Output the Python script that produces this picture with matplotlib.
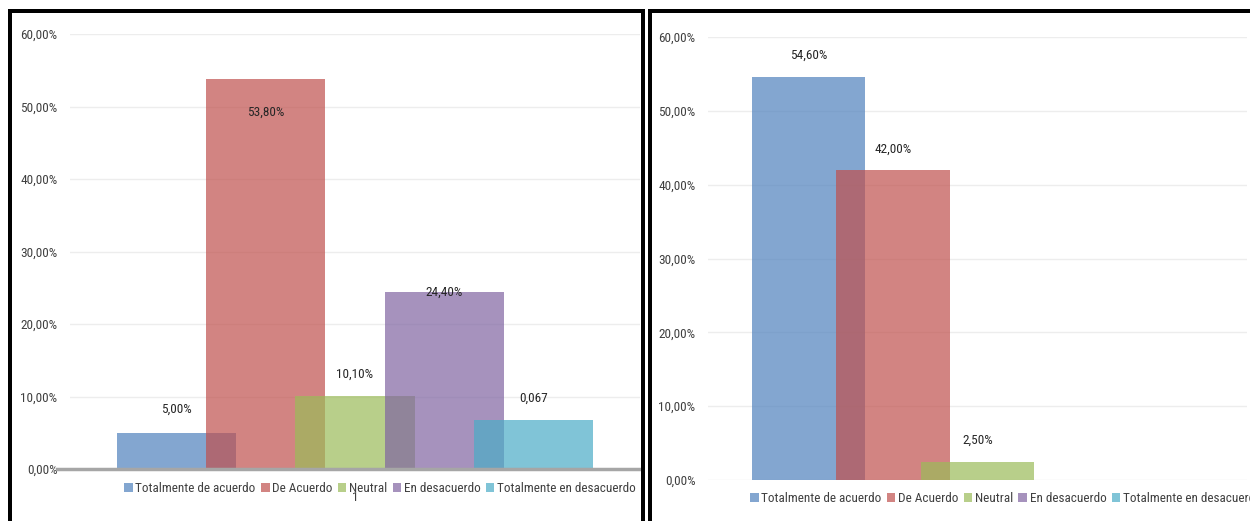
import matplotlib
matplotlib.use('Agg')
import matplotlib.pyplot as plt
from matplotlib.patches import Rectangle
from matplotlib.ticker import FuncFormatter, MultipleLocator
import numpy as np

# data
categories = ['Totalmente de acuerdo', 'De Acuerdo', 'Neutral',
              'En desacuerdo', 'Totalmente en desacuerdo']
left_values = [5.0, 53.8, 10.1, 24.4, 6.7]
left_labels = ['5,00%', '53,80%', '10,10%', '24,40%', '0,067']
right_values = [54.6, 42.0, 2.5, 0.0, 0.0]
right_labels = ['54,60%', '42,00%', '2,50%', '', '']
category_tick = ['1']

colors = ['#4F81BD', '#C0504D', '#9BBB59', '#8064A2', '#4BACC6']

plt.rcParams['font.family'] = ['Roboto Condensed', 'Archivo Narrow', 'DejaVu Sans']
plt.rcParams['font.size'] = 10

FS = 9.5
W, H = 1250, 521
fig = plt.figure(figsize=(W / 100, H / 100), dpi=100)


def px(x0, y0, x1, y1):
  # pixel box (top-left origin) -> figure fraction rect
  return [x0 / W, 1 - y1 / H, (x1 - x0) / W, (y1 - y0) / H]


def pct(v, _):
  return ('%.2f%%' % v).replace('.', ',')


def draw(ax, values, labels, offsets, width):
  x = np.arange(len(values))
  bars = ax.bar(x, values, width=width, color=colors, alpha=0.7,
                linewidth=0, zorder=3)
  for b, lab, off in zip(bars, labels, offsets):
    if not lab:
      continue
    ax.annotate(lab, (b.get_x() + b.get_width() / 2, b.get_height()),
                xytext=(0, off), textcoords='offset pixels',
                ha='center', va='center', color='#262626', fontsize=FS)
  ax.set_ylim(0, 60)
  ax.set_xlim(-1.19, 5.19)
  ax.yaxis.set_major_locator(MultipleLocator(10))
  ax.yaxis.set_major_formatter(FuncFormatter(pct))
  ax.grid(axis='y', color='#EDEDED', lw=1, zorder=0)
  ax.tick_params(axis='y', length=0, pad=9, labelcolor='#404040',
                 labelsize=FS)
  for s in ax.spines.values():
    s.set_visible(False)
  return bars


def legend(bars, anchor, loc):
  fig.legend(bars, categories, loc=loc, ncol=5, bbox_to_anchor=anchor,
             frameon=False, handlelength=0.65, handleheight=0.65,
             handletextpad=0.2, columnspacing=0.4, borderpad=0,
             borderaxespad=0, fontsize=FS, labelcolor='#404040')


# left chart
axL = fig.add_axes(px(70, 34, 640, 469))
bars = draw(axL, left_values, left_labels, [23, -33, 22, 0, 22], 1.333)
axL.axhline(0, xmin=-0.023, xmax=1, color='#A6A6A6', lw=2.5,
            clip_on=False, zorder=4)
axL.set_xticks([2])
axL.set_xticklabels(category_tick)
axL.tick_params(axis='x', length=0, pad=16, labelcolor='#404040',
                labelsize=FS)
legend(bars, (380 / W, 1 - 489 / H), 'center')

# right chart
axR = fig.add_axes(px(708, 37, 1247, 480))
bars = draw(axR, right_values, right_labels, [22, 21, 21, 0, 0], 1.343)
axR.set_xticks([])
legend(bars, (750 / W, 1 - 499 / H), 'center left')

# panel frames
lw = 4 * 72 / 100
fig.patches.append(Rectangle((10 / W, -0.05), 633 / W, 1 - 11 / H + 0.05,
                             transform=fig.transFigure, fill=False,
                             edgecolor='black', lw=lw))
fig.patches.append(Rectangle((650 / W, -0.05), 0.5, 1 - 11 / H + 0.05,
                             transform=fig.transFigure, fill=False,
                             edgecolor='black', lw=lw))

fig.savefig('out.png', dpi=100)
